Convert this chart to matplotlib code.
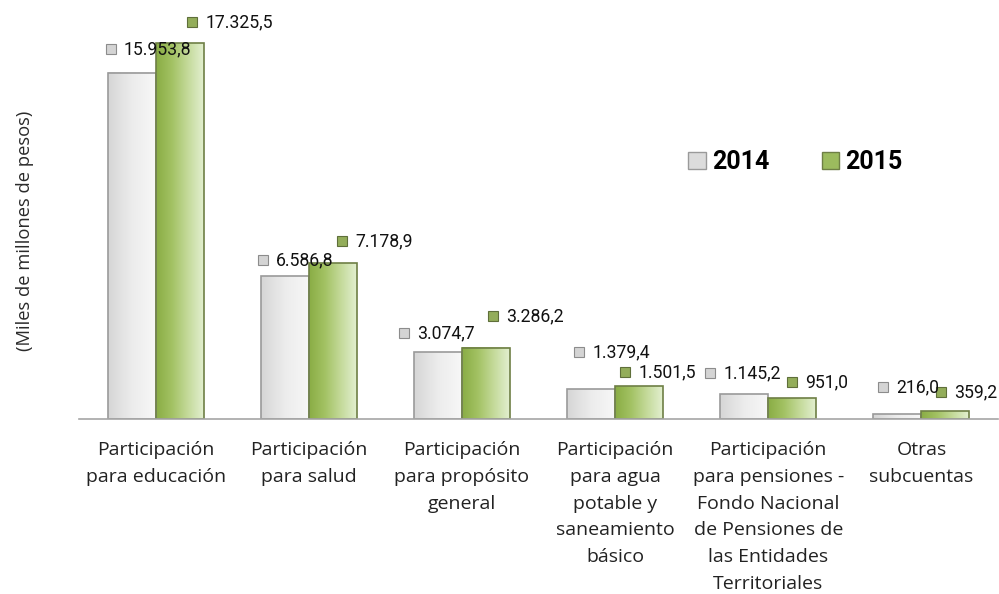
import numpy as np
import matplotlib
matplotlib.use("Agg")
import matplotlib.pyplot as plt
from matplotlib.patches import Rectangle
from matplotlib.colors import LinearSegmentedColormap
import matplotlib.transforms as mtransforms

categories = [
    "Participación\npara educación",
    "Participación\npara salud",
    "Participación\npara propósito\ngeneral",
    "Participación\npara agua\npotable y\nsaneamiento\nbásico",
    "Participación\npara pensiones -\nFondo Nacional\nde Pensiones de\nlas Entidades\nTerritoriales",
    "Otras\nsubcuentas",
]
series_names = ["2014", "2015"]
values_2014 = [15953.8, 6586.8, 3074.7, 1379.4, 1145.2, 216.0]
values_2015 = [17325.5, 7178.9, 3286.2, 1501.5, 951.0, 359.2]

# label placement (pixels: dx from bar left edge to icon left, dy above bar top)
lab_dx_2014 = [-1.6, -2.8, -14, 7.8, -14.4, 5.4]
lab_dy_2014 = [23.8, 16.1, 19.3, 37.1, 21.1, 27.3]
lab_dx_2015 = [32.4, 29.2, 27, 5.8, 19.6, 15.4]
lab_dy_2015 = [21, 22.2, 31.7, 14.4, 16.4, 19.2]


def fmt(v):
    s = f"{v:,.1f}"
    return s.replace(",", "X").replace(".", ",").replace("X", ".")


W, H = 999, 594
fig = plt.figure(figsize=(W / 100, H / 100), dpi=100)
left_px, right_px, base_px, top_px = 79, 998, 419, 10
ax = fig.add_axes([left_px / W, (H - base_px) / H, (right_px - left_px) / W, (base_px - top_px) / H])
scale = 376 / 17325.5  # px per unit
ax.set_ylim(0, (base_px - top_px) / scale)
ax.set_xlim(-0.5, len(categories) - 0.5)

bw = 0.313
gray_cmap = LinearSegmentedColormap.from_list("g", ["#d6d6d6", "#ececec", "#f7f7f7"])
green_cmap = LinearSegmentedColormap.from_list("gr", ["#8aad45", "#a3c264", "#c4da9a", "#e2efcf"])
grad = np.linspace(0, 1, 64).reshape(1, -1)

x = np.arange(len(categories))
for vals, off, cmap, edge in [(values_2014, -bw / 2, gray_cmap, "#9a9a9a"),
                               (values_2015, bw / 2, green_cmap, "#6e7f45")]:
    for xi, v in zip(x, vals):
        x0 = xi + off - bw / 2
        ax.imshow(grad, cmap=cmap, aspect="auto", extent=(x0, x0 + bw, 0, v),
                  zorder=2, interpolation="bicubic")
        ax.add_patch(Rectangle((x0, 0), bw, v, fill=False, edgecolor=edge, lw=1.2, zorder=3))

# data labels
for vals, off, dxs, dys, fc, ec in [
    (values_2014, -bw / 2, lab_dx_2014, lab_dy_2014, "#d4d4d4", "#8c8c8c"),
    (values_2015, bw / 2, lab_dx_2015, lab_dy_2015, "#93ad5a", "#5f6f3a"),
]:
    for xi, v, dx, dy in zip(x, vals, dxs, dys):
        x0 = xi + off - bw / 2
        tr = mtransforms.offset_copy(ax.transData, fig=fig, x=dx + 4.5, y=dy, units="dots")
        ax.plot([x0], [v], marker="s", ms=6.5, mfc=fc, mec=ec, mew=0.8, transform=tr,
                clip_on=False, zorder=5)
        tr2 = mtransforms.offset_copy(ax.transData, fig=fig, x=dx + 17.5, y=dy, units="dots")
        ax.text(x0, v, fmt(v), transform=tr2, ha="left", va="center", fontsize=12.7,
                family="Roboto", color="#111111", zorder=6, clip_on=False)

ax.set_xticks(x)
ax.set_xticklabels(categories, fontsize=14.0, family="Open Sans", linespacing=1.62,
                   color="#222222", va="top")
ax.tick_params(axis="x", length=0, pad=16)
ax.set_yticks([])
for s in ["top", "right", "left"]:
    ax.spines[s].set_visible(False)
ax.spines["bottom"].set_color("#a6a6a6")
ax.spines["bottom"].set_linewidth(1.2)
ax.spines["bottom"].set_zorder(4)

fig.text(25 / W, 1 - 231 / H, "(Miles de millones de pesos)", rotation=90, ha="center",
         va="center", fontsize=13.2, family="Open Sans", color="#2a2a2a")

handles = [Rectangle((0, 0), 1, 1, facecolor="#dcdcdc", edgecolor="#9a9a9a", lw=1),
           Rectangle((0, 0), 1, 1, facecolor="#9cbb5e", edgecolor="#6e7f45", lw=1)]
leg = fig.legend(handles, series_names, loc="center left",
                 bbox_to_anchor=(688 / W, 1 - 162 / H), ncol=2, frameon=False,
                 prop={"family": "Roboto", "weight": "bold", "size": 18},
                 handlelength=0.7, handleheight=0.7, handletextpad=0.25,
                 columnspacing=2.1, borderaxespad=0, borderpad=0)

fig.savefig("out.png", dpi=100)
